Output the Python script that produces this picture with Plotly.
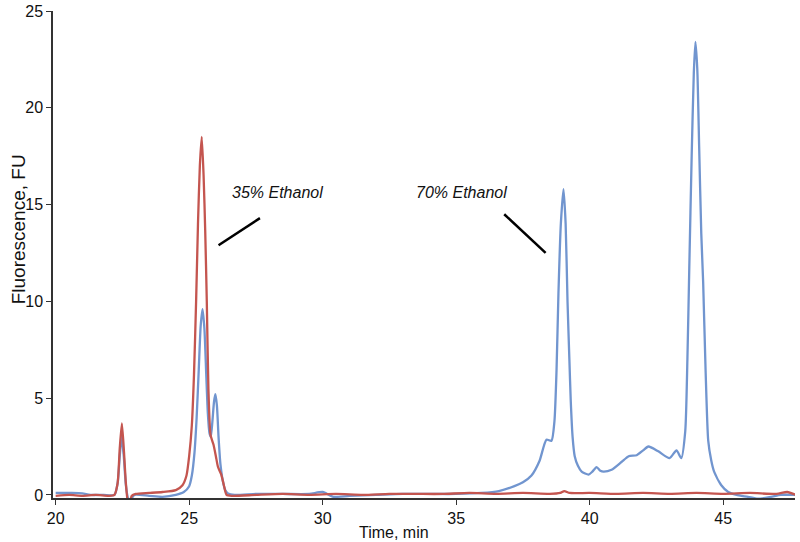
import plotly.graph_objects as go

# Chromatogram traces (time in min, fluorescence in FU)
blue_time = [20.0, 20.6, 21.0, 21.3, 21.8, 22.2, 22.32, 22.4, 22.47, 22.55, 22.63, 22.72, 22.8, 22.95,
             23.5, 24.0, 24.5, 24.8, 25.0, 25.1, 25.2, 25.28, 25.36, 25.43, 25.5, 25.57, 25.64,
             25.7, 25.76, 25.81, 25.87, 25.93, 25.98, 26.04, 26.1, 26.17, 26.25, 26.35, 26.45,
             26.7, 27.5, 28.5, 29.5, 30.0, 30.4, 31.0, 32.0, 33.0, 34.0, 35.0, 35.94, 36.6, 37.18,
             37.5, 37.82, 38.12, 38.38, 38.57, 38.68, 38.76, 38.83, 38.92, 39.02, 39.1, 39.17,
             39.24, 39.29, 39.36, 39.44, 39.56, 39.7, 39.96, 40.1, 40.26, 40.4, 40.52, 40.82,
             41.19, 41.46, 41.76, 42.0, 42.2, 42.57, 42.99, 43.25, 43.43, 43.58, 43.66, 43.73,
             43.82, 43.9, 43.96, 44.03, 44.1, 44.18, 44.25, 44.34, 44.44, 44.55, 44.66, 44.93,
             45.19, 45.5, 45.93, 46.3, 46.79, 47.16, 47.72]
blue_fu = [0.1, 0.1, 0.08, 0.0, 0.0, 0.0, 0.6, 2.0, 3.0, 2.0, 0.5, -0.2, -0.25, 0.0,
           -0.05, -0.1, 0.0, 0.15, 0.45, 1.0, 2.2, 4.0, 6.5, 8.7, 9.6, 8.6, 6.2,
           4.2, 3.2, 3.0, 3.8, 4.8, 5.2, 4.6, 3.0, 1.6, 0.8, 0.25, 0.08,
           0.0, 0.05, 0.05, 0.05, 0.15, -0.1, -0.05, 0.0, 0.05, 0.05, 0.05, 0.1, 0.2, 0.45,
           0.65, 1.0, 1.75, 2.85, 2.8, 3.8, 6.5, 10.4, 14.0, 15.8, 14.0, 10.0,
           7.0, 4.9, 3.0, 2.0, 1.5, 1.2, 1.05, 1.2, 1.44, 1.25, 1.2, 1.3,
           1.7, 2.0, 2.05, 2.3, 2.5, 2.25, 1.9, 2.3, 1.9, 3.3, 7.0, 11.7,
           17.5, 21.8, 23.4, 22.0, 18.0, 13.5, 11.0, 6.5, 2.8, 1.8, 1.2, 0.5,
           0.15, 0.0, -0.1, -0.2, -0.1, 0.0, 0.0]

red_time = [20.0, 20.5, 21.0, 21.5, 22.0, 22.2, 22.32, 22.4, 22.48, 22.56, 22.63, 22.7, 22.76,
            22.85, 23.0, 23.5, 24.0, 24.5, 24.75, 24.9, 25.0, 25.1, 25.18, 25.26, 25.33,
            25.4, 25.47, 25.54, 25.6, 25.66, 25.72, 25.8, 25.91, 26.0, 26.08, 26.2, 26.3,
            26.4, 26.6, 27.5, 28.5, 29.5, 30.5, 31.5, 32.5, 33.5, 34.5, 35.5, 36.5, 37.5,
            38.5, 38.9, 39.05, 39.25, 40.0, 41.0, 42.0, 43.0, 44.0, 45.0, 46.0, 47.0, 47.4,
            47.72]
red_fu = [-0.05, 0.0, -0.05, 0.0, -0.05, 0.0, 0.6, 2.4, 3.7, 2.2, 0.6, -0.3, -0.4,
          -0.05, 0.05, 0.1, 0.15, 0.25, 0.5, 1.0, 2.0, 3.6, 6.2, 10.0, 14.0,
          17.0, 18.5, 16.5, 13.7, 10.0, 5.5, 3.1, 2.6, 2.0, 1.44, 1.06, 0.5,
          0.0, -0.05, 0.0, 0.05, 0.0, 0.05, 0.0, 0.05, 0.05, 0.05, 0.1, 0.05, 0.1,
          0.05, 0.1, 0.2, 0.1, 0.1, 0.05, 0.1, 0.05, 0.1, 0.05, 0.1, 0.05, 0.15,
          0.0]

x_ticks = [20, 25, 30, 35, 40, 45]
y_ticks = [0, 5, 10, 15, 20, 25]

fig = go.Figure()
fig.add_trace(go.Scatter(x=blue_time, y=blue_fu, mode='lines',
                         line=dict(color='#7195cf', width=2.3, shape='spline', smoothing=0.6)))
fig.add_trace(go.Scatter(x=red_time, y=red_fu, mode='lines',
                         line=dict(color='#c4554f', width=2.3, shape='spline', smoothing=0.6)))

# label callouts
fig.add_shape(type='line', x0=26.1, y0=12.9, x1=27.65, y1=14.3,
              line=dict(color='black', width=2.5))
fig.add_shape(type='line', x0=36.8, y0=14.5, x1=38.35, y1=12.5,
              line=dict(color='black', width=2.5))
fig.add_annotation(x=28.3, y=15.6, text='<i>35% Ethanol</i>', showarrow=False,
                   font=dict(size=16, color='#111'))
fig.add_annotation(x=35.2, y=15.6, text='<i>70% Ethanol</i>', showarrow=False,
                   font=dict(size=16, color='#111'))

# axis titles placed by hand so the plot area keeps its size
fig.add_annotation(x=0.4596, y=-0.07, xref='paper', yref='paper', text='Time, min',
                   xanchor='center', yanchor='middle',
                   showarrow=False, font=dict(size=16, color='#111'))
fig.add_annotation(x=-0.047, y=0.552, xref='paper', yref='paper', text='Fluorescence, FU',
                   xanchor='center', yanchor='middle',
                   textangle=-90, showarrow=False, font=dict(size=19, color='#111'))

axis_style = dict(showgrid=False, zeroline=False, showline=True, linecolor='#333',
                  linewidth=1.5, ticks='outside', ticklen=5, tickcolor='#333',
                  automargin=False, tickfont=dict(size=16, color='#111'))

fig.update_xaxes(range=[19.9, 47.69], tickvals=x_ticks, **axis_style)
fig.update_yaxes(range=[-0.16, 25.0], tickvals=y_ticks, **axis_style)

fig.update_layout(width=800, height=542, showlegend=False,
                  margin=dict(l=53, r=5, t=11, b=44),
                  plot_bgcolor='white', paper_bgcolor='white',
                  font=dict(family='Arial, Liberation Sans, sans-serif'))

# drop the default page margin so the figure sits at the window's corner
fig.write_html("out.html", config={'displayModeBar': False},
               post_script="document.body.style.margin='0';")
